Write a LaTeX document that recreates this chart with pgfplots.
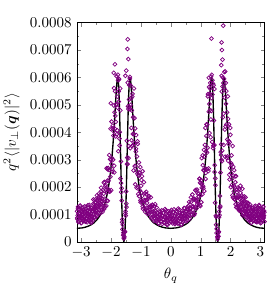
\documentclass[border=0pt]{standalone}
\usepackage{pgfplots}
\pgfplotsset{compat=1.18}
\usepackage{bm}
\definecolor{mpurple}{RGB}{128,0,128}
\begin{document}
\begin{tikzpicture}
\begin{axis}[
 scale only axis, width=125.2pt, height=146.3pt,
 xmin=-3.14159, xmax=3.14159, ymin=0, ymax=0.0008,
 xtick={-3,-2,-1,0,1,2,3}, minor x tick num=1,
 ytick={0,0.0001,0.0002,0.0003,0.0004,0.0005,0.0006,0.0007,0.0008},
 yticklabels={$0$,$0.0001$,$0.0002$,$0.0003$,$0.0004$,$0.0005$,$0.0006$,$0.0007$,$0.0008$},
 minor y tick num=1, scaled y ticks=false,
 tick align=inside, major tick length=2.7pt, minor tick length=1.5pt,
 xlabel={$\theta_q$}, ylabel={$q^2\langle|v_\perp(\bm{q})|^2\rangle$},
 scat/.style={only marks, mark=o, mpurple, mark size=1.3pt, mark options={line width=0.5pt}},
]
\coordinate (sw) at (rel axis cs:0,0);
\coordinate (ne) at (rel axis cs:1,1);
\addplot[scat] coordinates {
(-3.135,1.12e-4) (-3.125,0.84e-4) (-3.114,0.97e-4) (-3.104,1.28e-4) (-3.093,0.73e-4) (-3.083,1.05e-4) (-3.072,0.91e-4) (-3.062,1.19e-4) (-3.051,0.79e-4) (-3.041,1.02e-4) (-3.030,1.33e-4) (-3.020,0.88e-4) (-3.009,0.95e-4) (-2.999,1.14e-4) (-2.988,0.70e-4) (-2.978,1.08e-4) (-2.967,0.86e-4) (-2.957,1.24e-4) (-2.946,0.99e-4) (-2.936,0.77e-4) (-2.925,1.17e-4) (-2.915,0.93e-4) (-2.904,1.04e-4) (-2.894,0.81e-4) (-2.883,1.30e-4) (-2.873,0.90e-4) (-2.862,1.10e-4) (-2.852,0.75e-4) (-2.841,0.98e-4) (-2.831,1.21e-4) (-2.820,0.85e-4) (-2.810,1.06e-4) (-2.799,0.72e-4) (-2.789,1.15e-4) (-2.778,0.94e-4) (-2.768,1.26e-4) (-2.757,0.80e-4) (-2.747,1.01e-4) (-2.736,0.89e-4) (-2.726,1.35e-4) (-2.715,0.76e-4) (-2.705,1.09e-4) (-2.694,0.96e-4) (-2.684,1.18e-4) (-2.673,0.83e-4) (-2.663,1.03e-4) (-2.652,0.71e-4) (-2.642,1.23e-4) (-2.631,0.92e-4) (-2.621,1.11e-4) (-2.610,0.78e-4)
(-2.600,1.20e-4) (-2.589,1.55e-4) (-2.579,1.04e-4) (-2.568,1.16e-4) (-2.558,1.36e-4) (-2.547,0.89e-4) (-2.537,1.28e-4) (-2.526,1.08e-4) (-2.516,1.44e-4) (-2.505,1.34e-4)
(-2.495,1.12e-4) (-2.484,1.29e-4) (-2.474,1.70e-4) (-2.463,0.97e-4) (-2.453,1.40e-4) (-2.442,1.21e-4) (-2.432,1.58e-4) (-2.421,1.05e-4) (-2.411,1.36e-4) (-2.400,1.77e-4)
(-2.390,1.32e-4) (-2.379,1.43e-4) (-2.369,1.71e-4) (-2.358,1.05e-4) (-2.348,1.62e-4) (-2.337,1.29e-4) (-2.327,1.86e-4) (-2.316,1.49e-4) (-2.306,1.16e-4)
(-2.295,1.47e-4) (-2.283,1.10e-4) (-2.270,1.89e-4) (-2.258,1.31e-4) (-2.245,1.76e-4) (-2.233,1.20e-4) (-2.220,2.19e-4) (-2.208,1.58e-4) (-2.195,1.29e-4) (-2.183,2.08e-4) (-2.170,1.91e-4) (-2.158,1.32e-4) (-2.145,2.69e-4) (-2.133,1.81e-4) (-2.120,2.24e-4) (-2.108,1.50e-4) (-2.095,2.70e-4) (-2.083,2.23e-4) (-2.070,1.88e-4) (-2.058,3.17e-4) (-2.045,1.84e-4) (-2.033,3.02e-4) (-2.020,2.38e-4) (-2.008,3.00e-4) (-1.995,1.89e-4) (-1.983,4.39e-4) (-1.970,3.06e-4) (-1.958,2.56e-4) (-1.945,4.14e-4) (-1.933,3.00e-4) (-1.920,3.88e-4) (-1.908,4.98e-4) (-1.895,2.78e-4) (-1.883,4.73e-4) (-1.870,4.13e-4) (-1.858,4.60e-4) (-1.845,3.85e-4) (-1.833,5.02e-4) (-1.820,5.00e-4) (-1.808,3.93e-4) (-1.795,5.30e-4) (-1.783,4.90e-4) (-1.770,6.10e-4) (-1.758,3.31e-4) (-1.745,5.49e-4) (-1.733,5.93e-4) (-1.720,3.77e-4) (-1.708,4.01e-4) (-1.695,5.60e-4) (-1.683,2.31e-4) (-1.670,2.94e-4) (-1.658,1.82e-4) (-1.645,1.96e-4) (-1.633,0.72e-4) (-1.620,0.82e-4) (-1.608,0.63e-4) (-1.595,0.25e-4) (-1.583,0.25e-4) (-1.570,0.13e-4) (-1.558,0.20e-4) (-1.545,0.36e-4) (-1.533,0.37e-4) (-1.520,1.04e-4) (-1.508,0.96e-4) (-1.495,1.84e-4) (-1.483,1.27e-4) (-1.470,3.69e-4) (-1.458,3.08e-4) (-1.445,2.84e-4) (-1.433,4.95e-4) (-1.420,4.85e-4) (-1.408,3.50e-4) (-1.395,5.20e-4) (-1.383,4.93e-4) (-1.370,6.02e-4) (-1.358,3.42e-4) (-1.345,5.00e-4) (-1.333,5.24e-4) (-1.320,4.16e-4) (-1.308,4.80e-4) (-1.295,3.50e-4) (-1.283,5.40e-4) (-1.270,3.94e-4) (-1.258,4.55e-4) (-1.245,2.61e-4) (-1.233,5.60e-4) (-1.220,3.60e-4) (-1.208,2.77e-4) (-1.195,4.14e-4) (-1.183,2.77e-4) (-1.170,3.30e-4) (-1.158,3.90e-4) (-1.145,1.98e-4) (-1.133,3.12e-4) (-1.120,2.49e-4) (-1.108,3.58e-4) (-1.095,2.00e-4) (-1.083,2.42e-4) (-1.070,2.90e-4) (-1.058,1.67e-4) (-1.045,2.51e-4) (-1.033,1.88e-4) (-1.020,2.73e-4) (-1.008,1.45e-4) (-0.995,2.05e-4) (-0.983,2.26e-4) (-0.970,1.50e-4) (-0.958,1.68e-4) (-0.945,2.58e-4) (-0.933,1.21e-4)
(-1.87,6.48e-4) (-1.91,6.17e-4) (-1.74,5.96e-4) (-1.44,7.39e-4) (-1.45,7.04e-4) (-1.42,6.67e-4) (-1.49,6.25e-4) (-1.52,6.06e-4) (-1.37,5.95e-4) (-1.90,5.61e-4) (-2.01,5.06e-4)
(-0.915,1.38e-4) (-0.900,2.18e-4) (-0.884,1.49e-4) (-0.869,1.78e-4) (-0.854,1.19e-4) (-0.839,1.52e-4) (-0.823,1.83e-4) (-0.808,1.25e-4) (-0.793,1.53e-4) (-0.777,1.02e-4) (-0.762,1.59e-4) (-0.747,1.27e-4) (-0.731,1.66e-4) (-0.716,1.03e-4) (-0.701,1.27e-4) (-0.686,1.10e-4) (-0.670,1.63e-4) (-0.655,0.90e-4) (-0.640,1.28e-4) (-0.624,1.10e-4) (-0.609,1.33e-4) (-0.594,0.92e-4) (-0.578,1.12e-4) (-0.563,0.76e-4) (-0.548,1.30e-4) (-0.533,0.96e-4) (-0.517,1.13e-4) (-0.502,0.78e-4) (-0.487,0.99e-4) (-0.471,1.26e-4) (-0.456,0.84e-4) (-0.441,0.92e-4) (-0.425,1.06e-4) (-0.410,0.69e-4) (-0.395,0.98e-4) (-0.380,0.82e-4) (-0.364,1.09e-4) (-0.349,1.01e-4) (-0.334,0.76e-4) (-0.318,0.87e-4) (-0.303,1.15e-4) (-0.288,0.66e-4) (-0.272,0.95e-4) (-0.257,0.82e-4) (-0.242,1.07e-4) (-0.227,0.71e-4) (-0.211,0.92e-4) (-0.196,1.20e-4) (-0.181,0.79e-4) (-0.165,0.86e-4) (-0.150,1.03e-4) (-0.135,0.63e-4) (-0.119,0.97e-4) (-0.104,0.77e-4) (-0.089,1.12e-4) (-0.074,0.89e-4) (-0.058,0.69e-4) (-0.043,1.05e-4) (-0.028,0.84e-4) (-0.012,0.94e-4) (0.003,0.73e-4) (0.018,1.17e-4) (0.034,0.81e-4) (0.049,0.99e-4) (0.064,0.68e-4) (0.080,0.88e-4) (0.095,1.09e-4) (0.110,0.77e-4) (0.125,0.95e-4) (0.141,0.65e-4) (0.156,1.04e-4) (0.171,0.85e-4) (0.187,1.13e-4) (0.202,0.72e-4) (0.217,0.91e-4) (0.233,0.80e-4) (0.248,1.22e-4) (0.263,0.68e-4) (0.278,0.98e-4) (0.294,0.86e-4) (0.309,1.06e-4) (0.324,0.75e-4) (0.340,0.93e-4) (0.355,0.64e-4) (0.370,1.12e-4) (0.386,0.84e-4) (0.401,1.03e-4) (0.416,0.73e-4) (0.432,0.95e-4) (0.447,1.24e-4) (0.462,0.84e-4) (0.477,0.95e-4) (0.493,1.12e-4) (0.508,0.75e-4) (0.523,1.10e-4) (0.539,0.95e-4) (0.554,1.27e-4) (0.569,1.21e-4) (0.585,0.92e-4) (0.600,1.09e-4) (0.615,1.46e-4) (0.630,0.85e-4) (0.646,1.24e-4) (0.661,1.09e-4) (0.676,1.45e-4) (0.692,0.99e-4) (0.707,1.30e-4) (0.722,1.73e-4) (0.738,1.17e-4) (0.753,1.29e-4) (0.768,1.58e-4) (0.783,0.99e-4) (0.799,1.57e-4) (0.814,1.27e-4) (0.829,1.88e-4) (0.845,1.54e-4) (0.860,1.23e-4) (0.875,1.91e-4) (0.891,1.54e-4) (0.906,1.76e-4)
(0.933,1.66e-4) (0.945,1.38e-4) (0.958,2.31e-4) (0.970,1.33e-4) (0.983,2.16e-4) (0.995,1.70e-4) (1.008,2.13e-4) (1.020,1.45e-4) (1.033,3.06e-4) (1.045,2.12e-4) (1.058,1.74e-4) (1.070,2.80e-4) (1.083,2.03e-4) (1.095,2.62e-4) (1.108,3.36e-4) (1.120,1.86e-4) (1.133,3.12e-4) (1.145,2.67e-4) (1.158,4.16e-4) (1.170,2.52e-4) (1.183,3.30e-4) (1.195,4.29e-4) (1.208,2.66e-4) (1.220,4.28e-4) (1.233,3.44e-4) (1.245,5.39e-4) (1.258,2.59e-4) (1.270,4.75e-4) (1.283,5.65e-4) (1.295,3.97e-4) (1.308,4.81e-4) (1.320,5.80e-4) (1.333,3.82e-4) (1.345,6.03e-4) (1.358,4.78e-4) (1.370,6.10e-4) (1.383,3.65e-4) (1.395,5.38e-4) (1.408,5.78e-4) (1.420,3.51e-4) (1.433,5.72e-4) (1.445,3.52e-4) (1.458,3.54e-4) (1.470,2.80e-4) (1.483,1.43e-4) (1.495,2.07e-4) (1.508,0.96e-4) (1.520,0.92e-4) (1.533,0.33e-4) (1.545,0.48e-4) (1.558,0.18e-4) (1.570,0.11e-4) (1.583,0.22e-4) (1.595,0.34e-4) (1.608,0.38e-4) (1.620,1.11e-4) (1.633,0.98e-4) (1.645,1.68e-4) (1.658,1.31e-4) (1.670,3.28e-4) (1.683,3.17e-4) (1.695,3.00e-4) (1.708,5.49e-4) (1.720,3.33e-4) (1.733,5.67e-4) (1.745,4.55e-4) (1.758,5.80e-4) (1.770,3.54e-4) (1.783,5.95e-4) (1.795,5.27e-4) (1.808,4.10e-4) (1.820,6.22e-4) (1.833,4.21e-4) (1.845,5.04e-4) (1.858,5.50e-4) (1.870,3.07e-4) (1.883,4.73e-4) (1.895,3.74e-4) (1.908,5.31e-4) (1.920,2.96e-4) (1.933,3.58e-4) (1.945,4.29e-4) (1.958,2.45e-4) (1.970,3.64e-4) (1.983,2.70e-4) (1.995,3.91e-4) (2.008,2.00e-4) (2.020,2.87e-4) (2.033,3.16e-4) (2.045,2.08e-4) (2.058,2.31e-4) (2.070,3.50e-4) (2.083,1.62e-4) (2.095,2.42e-4) (2.108,1.84e-4) (2.120,2.62e-4) (2.133,1.55e-4) (2.145,1.99e-4) (2.158,2.18e-4) (2.170,1.38e-4) (2.183,2.40e-4) (2.195,1.60e-4) (2.208,1.82e-4) (2.220,1.66e-4) (2.233,1.25e-4) (2.245,1.98e-4) (2.258,1.31e-4) (2.270,1.68e-4) (2.283,1.15e-4) (2.295,1.94e-4)
(1.753,7.89e-4) (1.36,7.42e-4) (1.70,7.28e-4) (1.71,7.00e-4) (1.73,6.65e-4) (1.69,6.45e-4) (1.27,5.99e-4) (1.46,5.58e-4) (1.70,6.06e-4) (1.79,5.61e-4) (1.30,5.40e-4)
(2.306,1.57e-4) (2.317,1.36e-4) (2.327,2.05e-4) (2.338,1.14e-4) (2.348,1.61e-4) (2.359,1.40e-4) (2.369,1.70e-4) (2.380,1.18e-4) (2.390,1.44e-4) (2.401,0.97e-4) (2.411,1.65e-4) (2.422,1.22e-4) (2.432,1.47e-4) (2.443,1.02e-4) (2.453,1.30e-4) (2.464,1.66e-4) (2.474,1.11e-4) (2.485,1.23e-4) (2.495,1.42e-4) (2.506,0.92e-4) (2.516,1.31e-4) (2.527,1.09e-4) (2.537,1.44e-4) (2.548,1.32e-4) (2.558,0.97e-4) (2.569,1.11e-4) (2.579,1.43e-4) (2.590,0.80e-4) (2.600,1.13e-4) (2.611,0.96e-4) (2.621,1.25e-4) (2.632,0.82e-4) (2.642,1.05e-4) (2.653,1.36e-4) (2.663,0.89e-4) (2.674,0.95e-4) (2.684,1.14e-4) (2.695,0.70e-4) (2.705,1.08e-4) (2.716,0.86e-4) (2.726,1.24e-4) (2.737,0.99e-4) (2.747,0.77e-4) (2.758,1.17e-4) (2.768,0.93e-4) (2.779,1.04e-4) (2.789,0.81e-4) (2.800,1.30e-4) (2.810,0.90e-4) (2.821,1.10e-4) (2.831,0.75e-4) (2.842,0.98e-4) (2.852,1.21e-4) (2.863,0.85e-4) (2.873,1.06e-4) (2.884,0.72e-4) (2.894,1.15e-4) (2.905,0.94e-4) (2.915,1.26e-4) (2.926,0.80e-4) (2.936,1.01e-4) (2.947,0.89e-4) (2.957,1.35e-4) (2.968,0.76e-4) (2.978,1.09e-4) (2.989,0.96e-4) (2.999,1.18e-4) (3.010,0.83e-4) (3.020,1.03e-4) (3.031,0.71e-4) (3.041,1.23e-4) (3.052,0.92e-4) (3.062,1.11e-4) (3.073,0.78e-4) (3.083,1.00e-4) (3.094,1.29e-4) (3.104,0.87e-4) (3.115,0.97e-4) (3.125,1.13e-4) (3.136,0.74e-4)
};
\addplot[scat] coordinates {
(-3.130,0.88e-4) (-3.109,1.21e-4) (-3.088,0.76e-4) (-3.067,1.04e-4) (-3.046,1.31e-4) (-3.025,0.93e-4) (-3.004,0.69e-4) (-2.983,1.15e-4) (-2.962,0.99e-4) (-2.941,0.82e-4) (-2.920,1.27e-4) (-2.899,0.91e-4) (-2.878,1.08e-4) (-2.857,0.74e-4) (-2.836,1.19e-4) (-2.815,0.86e-4) (-2.794,1.02e-4) (-2.773,1.34e-4) (-2.752,0.79e-4) (-2.731,0.97e-4) (-2.710,1.12e-4) (-2.689,0.72e-4) (-2.668,1.25e-4) (-2.647,0.94e-4) (-2.626,0.84e-4) (-2.605,1.12e-4) (-2.584,1.40e-4) (-2.563,0.92e-4) (-2.542,1.20e-4) (-2.521,1.55e-4) (-2.500,1.16e-4) (-2.479,0.93e-4) (-2.458,1.52e-4) (-2.437,1.28e-4) (-2.416,1.64e-4) (-2.395,1.17e-4) (-2.374,1.52e-4) (-2.353,1.38e-4) (-2.332,1.98e-4) (-2.311,1.16e-4)
(-2.290,1.58e-4) (-2.265,1.41e-4) (-2.240,2.16e-4) (-2.215,1.26e-4) (-2.190,2.03e-4) (-2.165,1.89e-4) (-2.140,1.50e-4) (-2.115,2.65e-4) (-2.090,1.93e-4) (-2.065,2.63e-4) (-2.040,1.84e-4) (-2.015,4.13e-4) (-1.990,2.85e-4) (-1.965,2.66e-4) (-1.940,4.24e-4) (-1.915,4.04e-4) (-1.890,2.54e-4) (-1.865,5.50e-4) (-1.840,4.38e-4) (-1.815,6.05e-4) (-1.790,4.07e-4) (-1.765,5.90e-4) (-1.740,5.12e-4) (-1.715,3.52e-4) (-1.690,4.80e-4) (-1.665,2.15e-4) (-1.640,1.51e-4) (-1.615,0.46e-4) (-1.590,0.34e-4) (-1.565,0.16e-4) (-1.540,0.39e-4) (-1.515,1.12e-4) (-1.490,1.40e-4) (-1.465,2.84e-4) (-1.440,5.81e-4) (-1.415,3.06e-4) (-1.390,5.72e-4) (-1.365,4.84e-4) (-1.340,5.70e-4) (-1.315,3.71e-4) (-1.290,5.30e-4) (-1.265,3.53e-4) (-1.240,3.94e-4) (-1.215,4.52e-4) (-1.190,2.10e-4) (-1.165,3.40e-4) (-1.140,2.59e-4) (-1.115,3.67e-4) (-1.090,1.75e-4) (-1.065,2.42e-4) (-1.040,2.53e-4) (-1.015,1.52e-4) (-0.990,1.80e-4) (-0.965,2.40e-4) (-0.940,1.30e-4)
(-0.885,1.53e-4) (-0.855,1.10e-4) (-0.825,1.74e-4) (-0.795,1.43e-4) (-0.765,1.13e-4) (-0.735,1.68e-4) (-0.705,1.16e-4) (-0.675,1.32e-4) (-0.645,0.87e-4) (-0.615,1.36e-4) (-0.585,0.95e-4) (-0.555,1.08e-4) (-0.525,1.38e-4) (-0.495,0.79e-4) (-0.465,0.94e-4) (-0.435,1.06e-4) (-0.405,0.67e-4) (-0.375,1.14e-4) (-0.345,0.85e-4) (-0.315,0.76e-4) (-0.285,0.96e-4) (-0.255,1.05e-4) (-0.225,0.69e-4) (-0.195,0.90e-4) (-0.165,1.16e-4) (-0.135,0.80e-4) (-0.105,0.63e-4) (-0.075,1.03e-4) (-0.045,0.86e-4) (-0.015,1.11e-4) (0.015,0.73e-4) (0.045,0.95e-4) (0.075,0.83e-4) (0.105,1.19e-4) (0.135,0.68e-4) (0.165,0.79e-4) (0.195,1.09e-4) (0.225,0.68e-4) (0.255,0.94e-4) (0.285,1.18e-4) (0.315,0.84e-4) (0.345,0.62e-4) (0.375,1.05e-4) (0.405,0.92e-4) (0.435,0.78e-4) (0.465,1.23e-4) (0.495,0.91e-4) (0.525,1.11e-4) (0.555,0.78e-4) (0.585,1.31e-4) (0.615,0.98e-4) (0.645,1.20e-4) (0.675,1.63e-4) (0.705,1.00e-4) (0.735,1.28e-4) (0.765,1.55e-4) (0.795,1.04e-4) (0.825,1.89e-4) (0.855,1.49e-4) (0.885,1.38e-4)
(0.940,1.77e-4) (0.965,2.30e-4) (0.990,1.31e-4) (1.015,2.26e-4) (1.040,1.98e-4) (1.065,3.16e-4) (1.090,1.96e-4) (1.115,2.62e-4) (1.140,3.54e-4) (1.165,2.30e-4) (1.190,3.87e-4) (1.215,3.26e-4) (1.240,5.31e-4) (1.265,2.68e-4) (1.290,5.03e-4) (1.315,5.60e-4) (1.340,4.47e-4) (1.365,5.25e-4) (1.390,5.90e-4) (1.415,3.42e-4) (1.440,4.43e-4) (1.465,2.55e-4) (1.490,2.32e-4) (1.515,0.63e-4) (1.540,0.48e-4) (1.565,0.19e-4) (1.590,0.20e-4) (1.615,0.91e-4) (1.640,1.26e-4) (1.665,2.53e-4) (1.690,3.56e-4) (1.715,2.95e-4) (1.740,6.00e-4) (1.765,4.68e-4) (1.790,6.20e-4) (1.815,3.11e-4) (1.840,5.80e-4) (1.865,4.29e-4) (1.890,3.12e-4) (1.915,4.49e-4) (1.940,3.68e-4) (1.965,2.28e-4) (1.990,4.16e-4) (2.015,2.51e-4) (2.040,2.81e-4) (2.065,1.70e-4) (2.090,2.74e-4) (2.115,2.05e-4) (2.140,1.58e-4) (2.165,2.40e-4) (2.190,1.26e-4) (2.215,1.91e-4) (2.240,1.39e-4) (2.265,1.62e-4) (2.290,1.20e-4)
(2.311,1.15e-4) (2.332,1.79e-4) (2.353,1.29e-4) (2.374,1.48e-4) (2.395,1.94e-4) (2.416,1.05e-4) (2.437,1.29e-4) (2.458,1.49e-4) (2.479,0.96e-4) (2.500,1.63e-4) (2.521,1.13e-4) (2.542,1.01e-4) (2.563,1.28e-4) (2.584,1.40e-4) (2.605,0.85e-4) (2.626,1.00e-4) (2.647,1.29e-4) (2.668,0.89e-4) (2.689,0.70e-4) (2.710,1.14e-4) (2.731,0.96e-4) (2.752,1.23e-4) (2.773,0.81e-4) (2.794,1.05e-4) (2.815,0.92e-4) (2.836,1.32e-4) (2.857,0.75e-4) (2.878,0.88e-4) (2.899,1.21e-4) (2.920,0.76e-4) (2.941,1.04e-4) (2.962,1.31e-4) (2.983,0.93e-4) (3.004,0.69e-4) (3.025,1.15e-4) (3.046,0.99e-4) (3.067,0.82e-4) (3.088,1.27e-4) (3.109,0.91e-4) (3.130,1.08e-4)
};
\addplot[black, line width=0.9pt, line join=round] coordinates {
(-3.1416,0.499e-4) (-2.9708,0.514e-4) (-2.8708,0.537e-4) (-2.7708,0.574e-4) (-2.6708,0.628e-4) (-2.5708,0.70e-4) (-2.4708,0.81e-4) (-2.3708,0.965e-4) (-2.2708,1.19e-4) (-2.1708,1.54e-4) (-2.1208,1.79e-4) (-2.0708,2.11e-4) (-2.0208,2.52e-4) (-1.9708,3.07e-4) (-1.9308,3.62e-4) (-1.9008,4.11e-4) (-1.8708,4.66e-4) (-1.8508,5.05e-4) (-1.8308,5.41e-4) (-1.8108,5.73e-4) (-1.7908,5.95e-4) (-1.7708,5.99e-4) (-1.7508,5.80e-4) (-1.7308,5.33e-4) (-1.7108,4.60e-4) (-1.6908,3.69e-4) (-1.6708,2.72e-4) (-1.6508,1.80e-4) (-1.6308,1.03e-4) (-1.6108,0.46e-4) (-1.5908,0.115e-4) (-1.5708,0) (-1.5508,0.115e-4) (-1.5308,0.46e-4) (-1.5108,1.03e-4) (-1.4908,1.80e-4) (-1.4708,2.72e-4) (-1.4508,3.69e-4) (-1.4308,4.60e-4) (-1.4108,5.33e-4) (-1.3908,5.80e-4) (-1.3708,5.99e-4) (-1.3508,5.95e-4) (-1.3308,5.73e-4) (-1.3108,5.41e-4) (-1.2908,5.05e-4) (-1.2708,4.66e-4) (-1.2408,4.11e-4) (-1.2108,3.62e-4) (-1.1708,3.07e-4) (-1.1208,2.52e-4) (-1.0708,2.11e-4) (-1.0208,1.79e-4) (-0.9708,1.54e-4) (-0.8708,1.19e-4) (-0.7708,0.965e-4) (-0.6708,0.81e-4) (-0.5708,0.70e-4) (-0.4708,0.628e-4) (-0.3708,0.574e-4) (-0.2708,0.537e-4) (-0.1708,0.514e-4) (0,0.499e-4)
(0.1708,0.514e-4) (0.2708,0.537e-4) (0.3708,0.574e-4) (0.4708,0.628e-4) (0.5708,0.70e-4) (0.6708,0.81e-4) (0.7708,0.965e-4) (0.8708,1.19e-4) (0.9708,1.54e-4) (1.0208,1.79e-4) (1.0708,2.11e-4) (1.1208,2.52e-4) (1.1708,3.07e-4) (1.2108,3.62e-4) (1.2408,4.11e-4) (1.2708,4.66e-4) (1.2908,5.05e-4) (1.3108,5.41e-4) (1.3308,5.73e-4) (1.3508,5.95e-4) (1.3708,5.99e-4) (1.3908,5.80e-4) (1.4108,5.33e-4) (1.4308,4.60e-4) (1.4508,3.69e-4) (1.4708,2.72e-4) (1.4908,1.80e-4) (1.5108,1.03e-4) (1.5308,0.46e-4) (1.5508,0.115e-4) (1.5708,0) (1.5908,0.115e-4) (1.6108,0.46e-4) (1.6308,1.03e-4) (1.6508,1.80e-4) (1.6708,2.72e-4) (1.6908,3.69e-4) (1.7108,4.60e-4) (1.7308,5.33e-4) (1.7508,5.80e-4) (1.7708,5.99e-4) (1.7908,5.95e-4) (1.8108,5.73e-4) (1.8308,5.41e-4) (1.8508,5.05e-4) (1.8708,4.66e-4) (1.9008,4.11e-4) (1.9308,3.62e-4) (1.9708,3.07e-4) (2.0208,2.52e-4) (2.0708,2.11e-4) (2.1208,1.79e-4) (2.1708,1.54e-4) (2.2708,1.19e-4) (2.3708,0.965e-4) (2.4708,0.81e-4) (2.5708,0.70e-4) (2.6708,0.628e-4) (2.7708,0.574e-4) (2.8708,0.537e-4) (2.9708,0.514e-4) (3.1416,0.499e-4)
};
\end{axis}
\pgfresetboundingbox
\useasboundingbox ([xshift=-51.3pt,yshift=-30pt]sw) rectangle ([xshift=6.2pt,yshift=15.1pt]ne);
\end{tikzpicture}
\end{document}
